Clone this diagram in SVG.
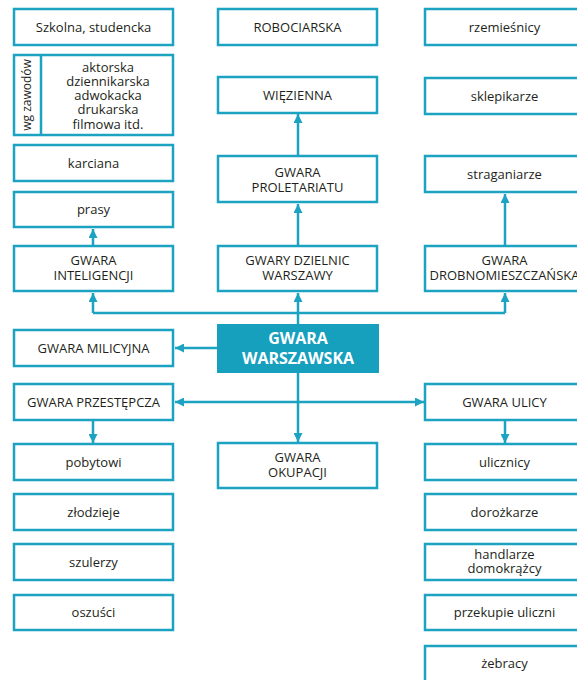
<svg xmlns="http://www.w3.org/2000/svg" width="577" height="680" viewBox="0 0 577 680">
<defs>
<style>
.box{fill:#fff;stroke:#1ba3c1;stroke-width:2.5}
.t{font-family:"Open Sans","Noto Sans",sans-serif;font-size:13px;fill:#231f20;text-anchor:middle}
.main{font-family:"Open Sans","Noto Sans",sans-serif;font-size:16px;font-weight:700;fill:#fff;text-anchor:middle}
.ln{fill:none;stroke:#1ba3c1;stroke-width:2.5}
</style>
<marker id="ah" viewBox="0 0 10 10" refX="10" refY="5" markerWidth="9" markerHeight="9" markerUnits="userSpaceOnUse" orient="auto-start-reverse"><path d="M0,0 L10,5 L0,10 z" fill="#1ba3c1"/></marker>
</defs>
<rect width="577" height="680" fill="#fff"/>
<g id="connectors">
<path class="ln" d="M298,324 V293" marker-end="url(#ah)"/>
<path class="ln" d="M298,373 V442" marker-end="url(#ah)"/>
<path class="ln" d="M93,313 H505"/>
<path class="ln" d="M93,313 V293" marker-end="url(#ah)"/>
<path class="ln" d="M505,313 V293" marker-end="url(#ah)"/>
<path class="ln" d="M93,245 V229" marker-end="url(#ah)"/>
<path class="ln" d="M298,245 V204" marker-end="url(#ah)"/>
<path class="ln" d="M298,155 V114" marker-end="url(#ah)"/>
<path class="ln" d="M505,245 V194" marker-end="url(#ah)"/>
<path class="ln" d="M217,348 H175" marker-end="url(#ah)"/>
<path class="ln" d="M175,402 H424" marker-start="url(#ah)" marker-end="url(#ah)"/>
<path class="ln" d="M93,421 V443" marker-end="url(#ah)"/>
<path class="ln" d="M505,421 V443" marker-end="url(#ah)"/>
</g>
<g id="szkolna"><rect class="box" x="14" y="9" width="159" height="36"/><text class="t" x="93.5" y="31.5">Szkolna, studencka</text></g>
<g id="zawody"><rect class="box" x="14" y="55" width="159" height="80"/><line class="ln" x1="41" y1="55" x2="41" y2="135"/>
<text class="t" transform="translate(31,95) rotate(-90)" style="font-size:12px">wg zawodów</text>
<text class="t" x="108" y="72">aktorska</text><text class="t" x="108" y="86">dziennikarska</text><text class="t" x="108" y="100">adwokacka</text><text class="t" x="108" y="114">drukarska</text><text class="t" x="108" y="128.5">filmowa itd.</text></g>
<g id="karciana"><rect class="box" x="14" y="145" width="159" height="36"/><text class="t" x="93.5" y="167.5">karciana</text></g>
<g id="prasy"><rect class="box" x="14" y="192" width="159" height="35"/><text class="t" x="93.5" y="214">prasy</text></g>
<g id="inteligencji"><rect class="box" x="14" y="246" width="159" height="45"/><text class="t" x="93.5" y="265">GWARA</text><text class="t" x="93.5" y="280">INTELIGENCJI</text></g>
<g id="milicyjna"><rect class="box" x="14" y="330" width="159" height="36"/><text class="t" x="93.5" y="352.5">GWARA MILICYJNA</text></g>
<g id="przestepcza"><rect class="box" x="14" y="384" width="159" height="36"/><text class="t" x="93.5" y="406.5">GWARA PRZESTĘPCZA</text></g>
<g id="pobytowi"><rect class="box" x="14" y="444" width="159" height="36"/><text class="t" x="93.5" y="466.5">pobytowi</text></g>
<g id="zlodzieje"><rect class="box" x="14" y="494" width="159" height="36"/><text class="t" x="93.5" y="516.5">złodzieje</text></g>
<g id="szulerzy"><rect class="box" x="14" y="544" width="159" height="36"/><text class="t" x="93.5" y="566.5">szulerzy</text></g>
<g id="oszusci"><rect class="box" x="14" y="595" width="159" height="35"/><text class="t" x="93.5" y="617">oszuści</text></g>
<g id="robociarska"><rect class="box" x="218" y="9" width="159" height="36"/><text class="t" x="297.5" y="31.5">ROBOCIARSKA</text></g>
<g id="wiezienna"><rect class="box" x="218" y="77" width="159" height="36"/><text class="t" x="297.5" y="99.5">WIĘZIENNA</text></g>
<g id="proletariatu"><rect class="box" x="218" y="156" width="159" height="46"/><text class="t" x="297.5" y="176.5">GWARA</text><text class="t" x="297.5" y="191.5">PROLETARIATU</text></g>
<g id="dzielnic"><rect class="box" x="218" y="246" width="159" height="45"/><text class="t" x="297.5" y="265">GWARY DZIELNIC</text><text class="t" x="297.5" y="280">WARSZAWY</text></g>
<g id="warszawska"><rect x="217" y="324" width="162" height="49" fill="#16a0be"/><text class="main" x="298" y="344">GWARA</text><text class="main" x="298" y="364">WARSZAWSKA</text></g>
<g id="okupacji"><rect class="box" x="218" y="443" width="159" height="45"/><text class="t" x="297.5" y="462">GWARA</text><text class="t" x="297.5" y="477">OKUPACJI</text></g>
<g id="rzemieslnicy"><rect class="box" x="425" y="9" width="159" height="36"/><text class="t" x="504.5" y="31.5">rzemieśnicy</text></g>
<g id="sklepikarze"><rect class="box" x="425" y="78" width="159" height="36"/><text class="t" x="504.5" y="100.5">sklepikarze</text></g>
<g id="straganiarze"><rect class="box" x="425" y="156" width="159" height="36"/><text class="t" x="504.5" y="178.5">straganiarze</text></g>
<g id="drobnomieszczanska"><rect class="box" x="425" y="246" width="159" height="45"/><text class="t" x="504.5" y="265">GWARA</text><text class="t" x="504.5" y="280">DROBNOMIESZCZAŃSKA</text></g>
<g id="ulicy"><rect class="box" x="425" y="384" width="159" height="36"/><text class="t" x="504.5" y="406.5">GWARA ULICY</text></g>
<g id="ulicznicy"><rect class="box" x="425" y="444" width="159" height="36"/><text class="t" x="504.5" y="466.5">ulicznicy</text></g>
<g id="dorozkarze"><rect class="box" x="425" y="494" width="159" height="36"/><text class="t" x="504.5" y="516.5">dorożkarze</text></g>
<g id="handlarze"><rect class="box" x="425" y="544" width="159" height="36"/><text class="t" x="504.5" y="559">handlarze</text><text class="t" x="504.5" y="573">domokrążcy</text></g>
<g id="przekupie"><rect class="box" x="425" y="595" width="159" height="35"/><text class="t" x="504.5" y="617">przekupie uliczni</text></g>
<g id="zebracy"><rect class="box" x="425" y="646" width="159" height="36"/><text class="t" x="504.5" y="668">żebracy</text></g>
</svg>
